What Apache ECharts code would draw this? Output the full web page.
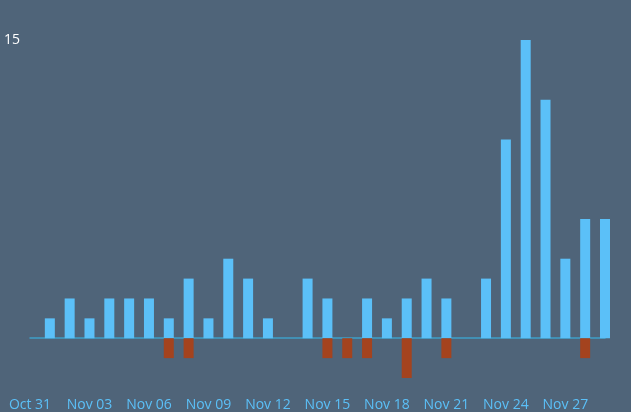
<!DOCTYPE html>
<html><head><meta charset="utf-8">
<script src="https://cdn.jsdelivr.net/npm/echarts@6/dist/echarts.min.js"></script>
<style>html,body{margin:0;padding:0;background:#4f6479;}#c{width:631px;height:412px;}</style>
</head><body><div id="c"></div>
<script>
const categories = ['Oct 31','Nov 01','Nov 02','Nov 03','Nov 04','Nov 05','Nov 06','Nov 07','Nov 08','Nov 09','Nov 10','Nov 11','Nov 12','Nov 13','Nov 14','Nov 15','Nov 16','Nov 17','Nov 18','Nov 19','Nov 20','Nov 21','Nov 22','Nov 23','Nov 24','Nov 25','Nov 26','Nov 27','Nov 28','Nov 29'];
const positive = [0,1,2,1,2,2,2,1,3,1,4,3,1,0,3,2,0,2,1,2,3,2,0,3,10,15,12,4,6,6];
const negative = [0,0,0,0,0,0,0,-1,-1,0,0,0,0,0,0,-1,-1,-1,0,-2,0,-1,0,0,0,0,0,0,-1,0];
const yTicks = [0,5,10,15];
const chart = echarts.init(document.getElementById('c'));
chart.setOption({
  backgroundColor:'#4f6479',
  animation:false,
  grid:{left:30,right:26,top:40,bottom:34,containLabel:false},
  xAxis:{type:'category',data:categories,boundaryGap:false,
    axisLine:{lineStyle:{color:'#3f9fc8',width:1.5}},axisTick:{show:false},
    axisLabel:{interval:2,color:'#5bc0f8',fontSize:14,margin:20,fontFamily:'Open Sans, sans-serif'},
    splitLine:{show:false}},
  yAxis:{type:'value',min:-2,max:15,interval:5,
    axisLine:{show:false},axisTick:{show:false},splitLine:{show:false},
    axisLabel:{color:'#ffffff',fontSize:14,margin:10,fontFamily:'Open Sans, sans-serif',
      formatter:v=>yTicks.includes(v)?String(v):''}},
  series:[
    {type:'bar',stack:'s',data:positive,barWidth:10,itemStyle:{color:'#5bc0f8'}},
    {type:'bar',stack:'s',data:negative,barWidth:10,itemStyle:{color:'#a4431e'}}
  ]
});
</script></body></html>
